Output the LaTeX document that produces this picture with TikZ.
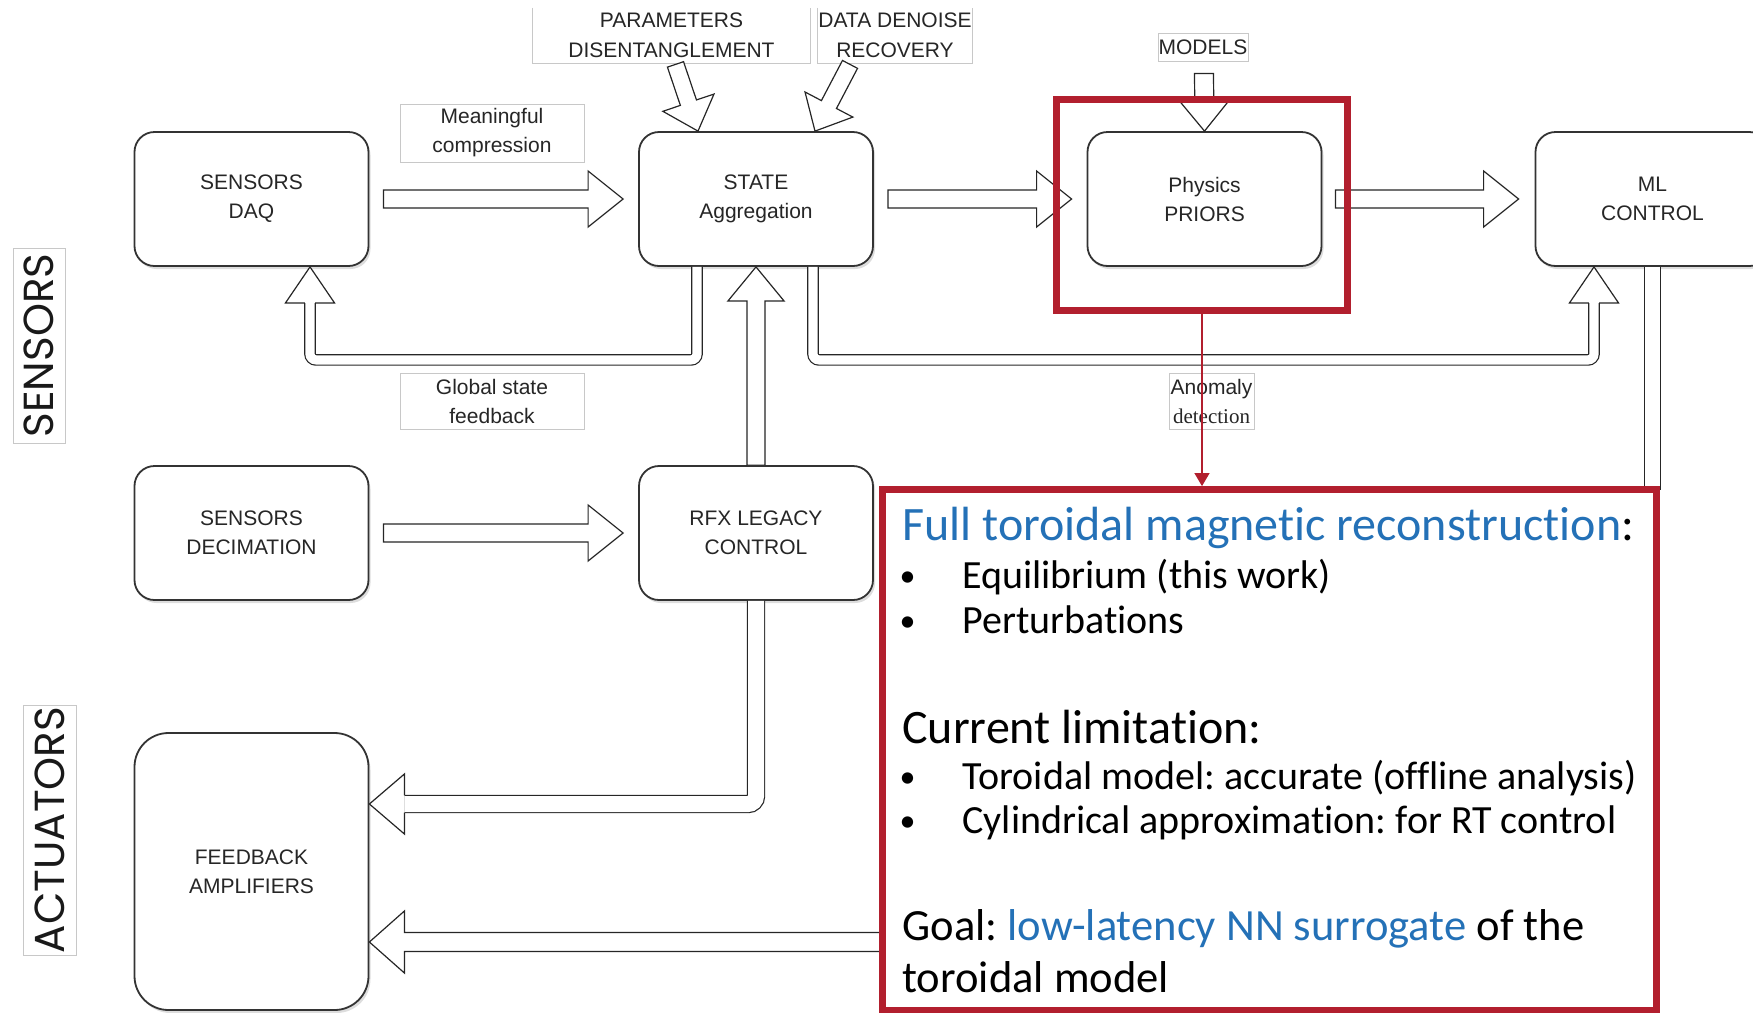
\documentclass[tikz,border=0pt]{standalone}
\usepackage{fontspec}
\setmainfont{Liberation Sans}
\newfontfamily\carl[Ligatures=NoCommon]{Carlito}
\newfontfamily\pop{Poppins}
\newfontfamily\lserif{Liberation Serif}
\usetikzlibrary{calc,shadows,arrows.meta}
\definecolor{redf}{RGB}{178,31,46}
\definecolor{bluet}{RGB}{36,113,183}
\definecolor{lblgray}{RGB}{200,200,200}
\frenchspacing
% straight block arrow: start, tip, shaft half, head half, head length
\newcommand{\barrow}[5]{%
  \coordinate (hb) at ($(#2)!#5!(#1)$);
  \draw[blockarrow] ($(#1)!#3!90:(#2)$) -- ($(hb)!#3!90:(#2)$) -- ($(hb)!#4!90:(#2)$) -- (#2)
     -- ($(hb)!#4!-90:(#2)$) -- ($(hb)!#3!-90:(#2)$) -- ($(#1)!#3!-90:(#2)$) -- cycle;}
% open arrow head: base centre, tip, shaft half, head half
\newcommand{\ahead}[4]{%
  \draw[blockarrow] ($(#1)!#3!90:(#2)$) -- ($(#1)!#4!90:(#2)$) -- (#2)
     -- ($(#1)!#4!-90:(#2)$) -- ($(#1)!#3!-90:(#2)$);}
\begin{document}
\begin{tikzpicture}[x=0.5pt,y=-0.5pt,
  dbox/.style={draw=black!80, line width=0.9pt, rounded corners=10pt, fill=white,
     minimum width=117pt, minimum height=67pt, inner sep=0pt, align=center,
     font=\fontsize{10.5}{14.5}\selectfont, text=black!85,
     drop shadow={shadow xshift=1pt,shadow yshift=-1.5pt,opacity=0.22,fill=black!60}},
  lbl/.style={draw=lblgray, line width=0.5pt, fill=white, inner sep=0pt, align=center,
     font=\fontsize{10.5}{14.5}\selectfont, text=black!85},
  toplbl/.style={draw=none, fill=white, inner sep=0pt, align=center,
     font=\fontsize{10.5}{15}\selectfont, text=black!85},
  vlbl/.style={draw=lblgray, line width=0.5pt, inner sep=0pt, rotate=90,
     font=\pop\fontsize{21}{21}\selectfont, text=black!90},
  frm/.style={draw=none, inner sep=0pt},
  redframe/.style={draw=redf, line width=3.5pt},
  blockarrow/.style={draw=black!85, line width=0.6pt, fill=white, line join=miter},
  dbl/.style={draw=black!85, line width=0.6pt, double=white, double distance=4.6pt, rounded corners=3pt},
  txt/.style={inner sep=0pt, text=black, anchor=base west},
  hfont/.style={font=\carl\fontsize{24}{28}\selectfont},
  gfont/.style={font=\carl\fontsize{22.3}{26}\selectfont},
  bfont/.style={font=\carl\fontsize{20}{24}\selectfont},
  dotfont/.style={font=\carl\fontsize{16}{20}\selectfont}
]
\useasboundingbox (0,0) rectangle (1753,1013);
\clip (0,0) rectangle (1753,1013);

% geometry of the red frames (drawn later)
\node[frm, minimum width=145pt, minimum height=105.25pt] (physframe) at (1202,204.75) {};
\node[frm, minimum width=386.5pt, minimum height=260pt] (textframe) at (1269.5,750) {};

% main boxes
\node[dbox] (daq) at (251.5,199) {SENSORS\\DAQ};
\node[dbox] (state) at (756,199) {STATE\\Aggregation};
\node[dbox] (phys) at (1204.5,199) {Physics\\PRIORS};
\node[dbox] (ml) at (1652.5,199) {ML\\CONTROL};
\node[dbox] (dec) at (251.5,533) {SENSORS\\DECIMATION};
\node[dbox] (rfx) at (756,533) {RFX LEGACY\\CONTROL};
\node[dbox, minimum height=138.5pt, rounded corners=17pt] (fb) at (251.5,871.5) {FEEDBACK\\AMPLIFIERS};

% labels
\node[lbl, minimum width=92pt, minimum height=29pt] (meaning) at (492,133) {Meaningful\\compression};
\node[lbl, minimum width=92pt, minimum height=28pt] (global) at (492,401) {Global state\\feedback};
\node[lbl, minimum width=45pt, minimum height=14pt] (models) at (1203,47) {MODELS};
\node[lbl, minimum width=42.5pt, minimum height=28pt] (anomaly) at (1211.5,401) {Anomaly\\{\lserif detection}};
\node[toplbl, minimum width=138.5pt, minimum height=27.5pt] (param) at (671.5,35.5) {PARAMETERS\\DISENTANGLEMENT};
\draw[lblgray, line width=0.5pt] (param.north west) -- (param.south west) -- (param.south east) -- (param.north east);
\node[toplbl, minimum width=77pt, minimum height=27.5pt] (data) at (895,35.5) {DATA DENOISE\\RECOVERY};
\draw[lblgray, line width=0.5pt] (data.north west) -- (data.south west) -- (data.south east) -- (data.north east);

% side labels
\node[vlbl, minimum width=97.5pt, minimum height=26pt] (sens) at (39,345.5) {SENSORS};
\node[vlbl, minimum width=125pt, minimum height=26.5pt] (act) at (49.5,830) {ACTUATORS};

% straight block arrows
\coordinate (a1s) at ($(daq.east)+(14,0)$);   \coordinate (a1t) at ($(state.west)+(-15,0)$);
\barrow{a1s}{a1t}{4.5pt}{14pt}{17.5pt}
\coordinate (a2s) at ($(state.east)+(14,0)$); \coordinate (a2t) at ($(phys.west)+(-15,0)$);
\barrow{a2s}{a2t}{4.5pt}{14pt}{17.5pt}
\coordinate (a3s) at ($(phys.east)+(13,0)$);  \coordinate (a3t) at ($(ml.west)+(-16,0)$);
\barrow{a3s}{a3t}{4.5pt}{14pt}{17.5pt}
\coordinate (a4s) at ($(dec.east)+(14,0)$);   \coordinate (a4t) at ($(rfx.west)+(-15,0)$);
\barrow{a4s}{a4t}{4.5pt}{14pt}{17.5pt}
\barrow{rfx.north}{state.south}{4.5pt}{14pt}{17pt}
\coordinate (a6s) at ($(param.south)+(4,1)$); \coordinate (a6t) at ($(state.north)+(-58,0)$);
\barrow{a6s}{a6t}{4.25pt}{13.5pt}{15pt}
\coordinate (a7s) at ($(data.south)+(-45,1)$); \coordinate (a7t) at ($(state.north)+(59,0)$);
\barrow{a7s}{a7t}{4.25pt}{13.5pt}{15pt}
\coordinate (a8s) at ($(models.south)+(1,12)$); \coordinate (a8t) at (phys.north);
\barrow{a8s}{a8t}{4.75pt}{12.25pt}{15pt}
\coordinate (lowtip) at ($(fb.east)+(0,70.5)$);
\coordinate (lowstart) at (lowtip -| textframe.west);
\barrow{lowstart}{lowtip}{4.75pt}{15.5pt}{17.5pt}

% bent arrows
\coordinate (g0) at ($(state.south)+(-59,0)$);
\coordinate (gt) at ($(daq.south)+(58.5,0)$);
\coordinate (gb) at ($(gt)+(0,36)$);
\draw[dbl] (g0) -- ($(g0)+(0,93)$) -| (gb);
\ahead{gb}{gt}{2.6pt}{12.25pt}

\coordinate (m0) at ($(state.south)+(57,0)$);
\coordinate (mt) at ($(ml.south)+(-58.5,0)$);
\coordinate (mb) at ($(mt)+(0,36)$);
\draw[dbl] (m0) -- ($(m0)+(0,93)$) -| (mb);
\ahead{mb}{mt}{2.6pt}{12.25pt}

\coordinate (rt) at ($(fb.east)+(0,-67.5)$);
\coordinate (rb) at ($(rt)+(35,0)$);
\draw[dbl, double distance=8pt, rounded corners=4pt] (rfx.south) |- (rb);
\ahead{rb}{rt}{4.3pt}{15pt}

\draw[dbl, double distance=7.4pt, rounded corners=0pt] (ml.south) -- (ml.south |- textframe.north);

% red frames and red connector
\draw[redframe] (physframe.north west) rectangle (physframe.south east);
\draw[redframe] (textframe.north west) rectangle (textframe.south east);
\draw[redf, line width=0.6pt, -{Triangle[width=7.5pt,length=6.5pt]}, shorten >=1.75pt]
  (physframe.south) -- (physframe.south |- textframe.north);

% text in the red box
\node[txt, hfont] (t1) at (902,540) {\textcolor{bluet}{Full toroidal magnetic reconstruction}:};
\node[txt, dotfont, anchor=base] (b1) at (907.5,586) {•};
\node[txt, bfont] (t2) at (962,588) {Equilibrium (this work)};
\node[txt, dotfont, anchor=base] (b2) at (907.5,631) {•};
\node[txt, bfont] (t3) at (962,633) {Perturbations};
\node[txt, hfont] (t4) at (902,743) {Current limitation:};
\node[txt, dotfont, anchor=base] (b3) at (907.5,787) {•};
\node[txt, bfont] (t5) at (962,789) {Toroidal model: accurate (offline analysis)};
\node[txt, dotfont, anchor=base] (b4) at (907.5,831.5) {•};
\node[txt, bfont] (t6) at (962,833.5) {Cylindrical approximation: for RT control};
\node[txt, gfont] (t7) at (902,940) {Goal: \textcolor{bluet}{low-latency NN surrogate} of the};
\node[txt, gfont] (t8) at (902,992) {toroidal model};
\end{tikzpicture}
\end{document}
